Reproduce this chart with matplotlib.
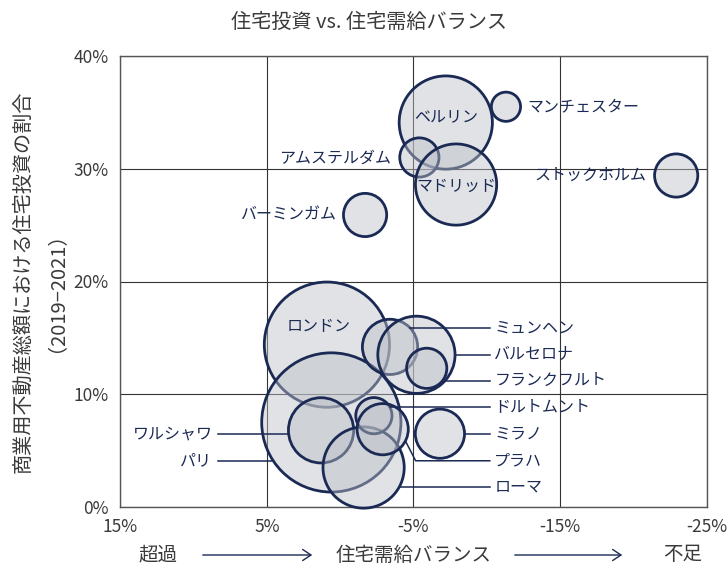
import numpy as np
import matplotlib.pyplot as plt
from matplotlib.patches import FancyArrowPatch

plt.rcParams['font.family'] = ['Noto Sans CJK JP', 'DejaVu Sans']

# data
cities = ['ベルリン', 'マンチェスター', 'アムステルダム', 'マドリッド', 'ストックホルム',
          'バーミンガム', 'ロンドン', 'パリ', 'ワルシャワ', 'ローマ', 'ドルトムント',
          'プラハ', 'ミラノ', 'ミュンヘン', 'バルセロナ', 'フランクフルト']
balance = [-7.2, -11.3, -5.4, -7.9, -22.9, -1.7, 0.9, 0.6, 1.3, -1.6, -2.3,
           -2.9, -6.8, -3.4, -5.2, -5.9]          # housing supply/demand balance (%)
share = [34.1, 35.5, 31.0, 28.6, 29.4, 25.9, 14.4, 7.5, 6.8, 3.5, 8.1,
         6.9, 6.5, 14.2, 13.5, 12.3]              # residential share of CRE investment (%)
bubble = [48, 16, 21, 42, 23, 23, 64, 71, 34, 42, 19.5, 27, 26, 29, 40, 21.5]

xticks = [15, 5, -5, -15, -25]
xtick_labels = ['15%', '5%', '-5%', '-15%', '-25%']
yticks = [0, 10, 20, 30, 40]
ytick_labels = ['0%', '10%', '20%', '30%', '40%']

navy = '#1b2a55'
grey_txt = '#3a3a3a'

fig = plt.figure(figsize=(7.27, 5.68), dpi=100)
ax = fig.add_axes([120 / 727, 61 / 568, 587 / 727, 451 / 568])
ax.set_xlim(15, -25)
ax.set_ylim(0, 40)

lw = 2.0
s = [(2 * (r - lw * 100 / 72 / 2) * 0.72) ** 2 for r in bubble]
ax.scatter(balance, share, s=s, facecolors=[(0.737, 0.753, 0.776, 0.45)],
           edgecolors=navy, linewidths=lw, zorder=3, clip_on=False)

ax.set_xticks(xticks)
ax.set_xticklabels(xtick_labels)
ax.set_yticks(yticks)
ax.set_yticklabels(ytick_labels)
ax.tick_params(length=0, labelsize=12.5, labelcolor=grey_txt, pad=8)
ax.grid(color='#333333', lw=0.8)
ax.set_axisbelow(True)
for sp in ax.spines.values():
    sp.set_color('#555555')
    sp.set_linewidth(1)

fs = 11.5

# labels inside bubbles
inner = {'ロンドン': (1.46, 16.0), 'ベルリン': (-7.2, 34.6), 'マドリッド': (-7.9, 28.4)}
for name, (lx, ly) in inner.items():
    ax.text(lx, ly, name, ha='center', va='center', fontsize=fs, color=navy, zorder=5)

# labels beside bubbles, no leader line
side = {'マンチェスター': (-12.76, 35.5, 'left'), 'アムステルダム': (-3.5, 30.9, 'right'),
        'バーミンガム': (0.24, 25.9, 'right'), 'ストックホルム': (-20.9, 29.4, 'right')}
for name, (lx, ly, ha) in side.items():
    ax.text(lx, ly, name, ha=ha, va='center', fontsize=fs, color=navy, zorder=5)

# labels with leader lines
to_pix = ax.transData
to_data = ax.transData.inverted()


def edge_at(i, ypix, sign):
    cx, cy = to_pix.transform((balance[i], share[i]))
    r = bubble[i] - 1
    dy = ypix - cy
    return cx + sign * np.sqrt(max(r * r - dy * dy, 0)), ypix


leaders = {'ミュンヘン': 15.9, 'バルセロナ': 13.5, 'フランクフルト': 11.2,
           'ドルトムント': 8.9, 'ミラノ': 6.5, 'プラハ': 4.1, 'ローマ': 1.8}
for name, ly in leaders.items():
    i = cities.index(name)
    ypix = to_pix.transform((0, ly))[1]
    xend = to_pix.transform((-10.2, 0))[0]
    if name == 'プラハ':
        cx, cy = to_pix.transform((balance[i], share[i]))
        a = np.radians(-28)
        r = bubble[i] - 1
        pts = [(cx + r * np.cos(a), cy + r * np.sin(a)), (cx + r * np.cos(a) + 10, ypix), (xend, ypix)]
    else:
        pts = [edge_at(i, ypix, 1), (xend, ypix)]
    d = to_data.transform(pts)
    ax.plot(d[:, 0], d[:, 1], color=navy, lw=1.1, zorder=4)
    ax.text(-10.5, ly, name, ha='left', va='center', fontsize=fs, color=navy, zorder=5)

for name, ly in {'ワルシャワ': 6.5, 'パリ': 4.1}.items():
    i = cities.index(name)
    ypix = to_pix.transform((0, ly))[1]
    xend = to_pix.transform((8.35, 0))[0]
    d = to_data.transform([(xend, ypix), edge_at(i, ypix, -1)])
    ax.plot(d[:, 0], d[:, 1], color=navy, lw=1.1, zorder=4)
    ax.text(8.7, ly, name, ha='right', va='center', fontsize=fs, color=navy, zorder=5)

fig.text(369 / 727, 1 - 22 / 568, '住宅投資 vs. 住宅需給バランス', ha='center', va='center',
         fontsize=14.5, color=grey_txt)
fig.text(35 / 727, 1 - 282 / 568, '商業用不動産総額における住宅投資の割合\n（2019−2021）',
         rotation=90, ha='center', va='center', multialignment='center',
         fontsize=14.5, color=grey_txt, linespacing=1.15)

yb = 1 - 555 / 568
fig.text(158 / 727, yb, '超過', ha='center', va='center', fontsize=14, color=grey_txt)
fig.text(414 / 727, yb, '住宅需給バランス', ha='center', va='center', fontsize=14, color=grey_txt)
fig.text(683 / 727, yb, '不足', ha='center', va='center', fontsize=14, color=grey_txt)
for x0, x1 in [(200, 315), (512, 625)]:
    fig.add_artist(FancyArrowPatch((x0 / 727, yb), (x1 / 727, yb), transform=fig.transFigure,
                                   arrowstyle='->,head_length=6,head_width=4', color=navy, lw=1))

fig.savefig('out.png', dpi=100)
